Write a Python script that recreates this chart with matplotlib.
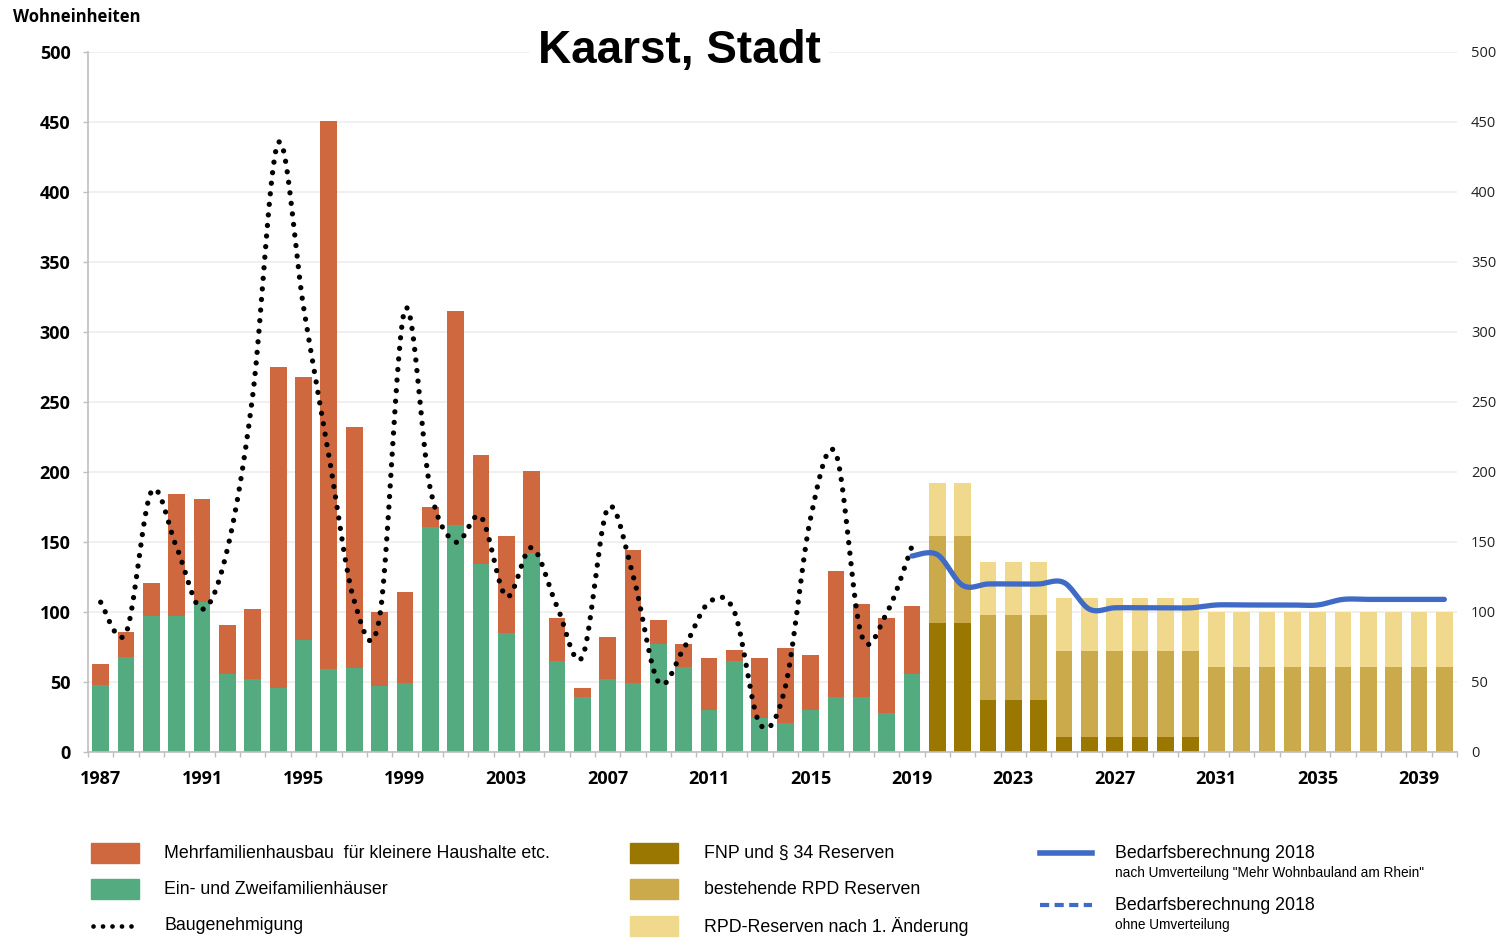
import numpy as np
import matplotlib
matplotlib.use("Agg")
import matplotlib.pyplot as plt
from matplotlib.patches import Rectangle
from matplotlib.lines import Line2D

# Fertigstellungen 1987-2019
years_hist = list(range(1987, 2020))
efh = [48, 68, 97, 97, 107, 56, 52, 46, 80, 59, 60, 47, 49, 161, 162, 134, 85,
       142, 65, 39, 52, 49, 77, 61, 30, 65, 24, 21, 30, 39, 39, 28, 56]
mfh = [15, 18, 24, 87, 74, 35, 50, 229, 188, 392, 172, 53, 65, 14, 153, 78, 69,
       59, 31, 7, 30, 95, 17, 16, 37, 8, 43, 53, 39, 90, 67, 68, 48]
baugenehmigung = [107, 85, 186, 146, 102, 145, 255, 435, 318, 212, 108, 96, 316,
                  188, 150, 168, 111, 146, 104, 68, 174, 126, 50, 74, 107, 100,
                  20, 46, 167, 213, 84, 99, 147]

# Reserven 2020-2040
years_res = list(range(2020, 2041))
fnp = [92, 92, 37, 37, 37, 11, 11, 11, 11, 11, 11] + [0] * 10
rpd = [62, 62, 61, 61, 61, 61, 61, 61, 61, 61, 61] + [61] * 10
rpd_neu = [38, 38, 38, 38, 38, 38, 38, 38, 38, 38, 38] + [39] * 10

# Bedarfsberechnung 2018
years_bedarf = list(range(2019, 2041))
bedarf = [140, 141, 119, 120, 120, 120, 121, 102, 103, 103, 103, 103, 105, 105,
          105, 105, 105, 109, 109, 109, 109, 109]

C_MFH = "#d0683f"
C_EFH = "#55ab80"
C_FNP = "#997700"
C_RPD = "#cbaa4c"
C_NEU = "#f0d98c"
C_BLUE = "#3f6bc6"
GRID = "#eeeeee"
AXIS = "#bfbfbf"


def smooth(x, y, n=30):
    # Bezier-Glättung wie bei Excel-Linien (Catmull-Rom)
    x = np.asarray(x, float)
    y = np.asarray(y, float)
    px = np.concatenate([[x[0]], x, [x[-1]]])
    py = np.concatenate([[y[0]], y, [y[-1]]])
    xs, ys = [], []
    t = np.linspace(0, 1, n)
    for i in range(1, len(px) - 2):
        p0 = np.array([px[i], py[i]])
        p3 = np.array([px[i + 1], py[i + 1]])
        c1 = p0 + (np.array([px[i + 1], py[i + 1]]) - np.array([px[i - 1], py[i - 1]])) / 6
        c2 = p3 - (np.array([px[i + 2], py[i + 2]]) - np.array([px[i], py[i]])) / 6
        b = ((1 - t) ** 3)[:, None] * p0 + (3 * (1 - t) ** 2 * t)[:, None] * c1 \
            + (3 * (1 - t) * t ** 2)[:, None] * c2 + (t ** 3)[:, None] * p3
        xs.append(b[:, 0])
        ys.append(b[:, 1])
    return np.concatenate(xs), np.concatenate(ys)


plt.rcParams["font.family"] = ["Open Sans", "DejaVu Sans"]

fig = plt.figure(figsize=(14.99, 9.38), dpi=100)
ax = fig.add_axes([0.0587, 0.1983, 0.9133, 0.7463])

w = 0.66
ax.bar(years_hist, efh, width=w, color=C_EFH, zorder=2)
ax.bar(years_hist, mfh, width=w, bottom=efh, color=C_MFH, zorder=2)

ax.bar(years_res, fnp, width=w, color=C_FNP, zorder=2)
ax.bar(years_res, rpd, width=w, bottom=fnp, color=C_RPD, zorder=2)
bot = [a + b for a, b in zip(fnp, rpd)]
ax.bar(years_res, rpd_neu, width=w, bottom=bot, color=C_NEU, zorder=2)

sx, sy = smooth(years_hist, baugenehmigung)
ax.plot(sx, sy, color="black", lw=3.8, linestyle=(0, (0.01, 2.0)),
        dash_capstyle="round", zorder=3)

bx, by = smooth(years_bedarf, bedarf)
ax.plot(bx, by, color=C_BLUE, lw=3.8, solid_capstyle="round", zorder=4)

ax.set_xlim(1986.5, 2040.5)
ax.set_ylim(0, 500)
ax.set_yticks(range(0, 501, 50))
ax.yaxis.grid(True, color=GRID, lw=1.2, zorder=0)
ax.set_axisbelow(True)

ax.set_xticks(range(1987, 2041, 4))
ax.set_xticks(np.arange(1986.5, 2041, 1), minor=True)
ax.tick_params(axis="x", which="major", length=0, pad=13, labelsize=13)
ax.tick_params(axis="x", which="minor", length=3.6, color=AXIS, width=1)
ax.tick_params(axis="y", length=3.6, color=AXIS, width=1, pad=9, labelsize=13)
for lab in ax.get_xticklabels() + ax.get_yticklabels():
    lab.set_fontweight("bold")

for s in ["top", "right"]:
    ax.spines[s].set_visible(False)
for s in ["left", "bottom"]:
    ax.spines[s].set_color(AXIS)
    ax.spines[s].set_linewidth(1.2)

ax2 = ax.twinx()
ax2.set_ylim(0, 500)
ax2.set_yticks(range(0, 501, 50))
ax2.tick_params(axis="y", length=0, pad=10, labelsize=10.5, labelcolor="#222222")
for s in ax2.spines.values():
    s.set_visible(False)

fig.text(0.0087, 0.982, "Wohneinheiten", fontsize=12, fontweight="bold",
         va="center", ha="left")
fig.text(0.453, 0.946, "Kaarst, Stadt", fontsize=33, fontweight="bold",
         family="Liberation Sans", ha="center", va="center",
         bbox=dict(facecolor="white", edgecolor="none", pad=6))

# Legende
lf = dict(family="Liberation Sans", fontsize=12.8, va="center", ha="left")
H, W = fig.get_figheight() * 100, fig.get_figwidth() * 100


def fx(px):
    return px / W


def fy(py):
    return 1 - py / H


def patch(x, y, color):
    fig.add_artist(Rectangle((fx(x), fy(y + 10)), fx(48), 20 / H,
                             color=color, transform=fig.transFigure))


patch(91, 853, C_MFH)
fig.text(fx(164), fy(853), "Mehrfamilienhausbau  für kleinere Haushalte etc.", **lf)
patch(91, 889, C_EFH)
fig.text(fx(164), fy(889), "Ein- und Zweifamilienhäuser", **lf)
fig.add_artist(Line2D([fx(93), fx(138)], [fy(926), fy(926)], color="black",
                      lw=3.4, linestyle=(0, (0.01, 2.0)), dash_capstyle="round",
                      transform=fig.transFigure))
fig.text(fx(164), fy(926), "Baugenehmigung", **lf)

patch(630, 853, C_FNP)
fig.text(fx(704), fy(853), "FNP und § 34 Reserven", **lf)
patch(630, 889, C_RPD)
fig.text(fx(704), fy(889), "bestehende RPD Reserven", **lf)
patch(630, 926, C_NEU)
fig.text(fx(704), fy(926), "RPD-Reserven nach 1. Änderung", **lf)

fig.add_artist(Line2D([fx(1040), fx(1092)], [fy(853), fy(853)], color=C_BLUE,
                      lw=4, transform=fig.transFigure))
fig.text(fx(1115), fy(854), "Bedarfsberechnung 2018", **lf)
fig.text(fx(1115), fy(873), "nach Umverteilung \"Mehr Wohnbauland am Rhein\"",
         family="Liberation Sans", fontsize=9.8, va="center", ha="left")
fig.add_artist(Line2D([fx(1040), fx(1092)], [fy(905), fy(905)], color=C_BLUE,
                      lw=3, linestyle=(0, (2.2, 1.3)),
                      transform=fig.transFigure))
fig.text(fx(1115), fy(906), "Bedarfsberechnung 2018", **lf)
fig.text(fx(1115), fy(925), "ohne Umverteilung",
         family="Liberation Sans", fontsize=9.8, va="center", ha="left")

fig.savefig("out.png", dpi=100)
